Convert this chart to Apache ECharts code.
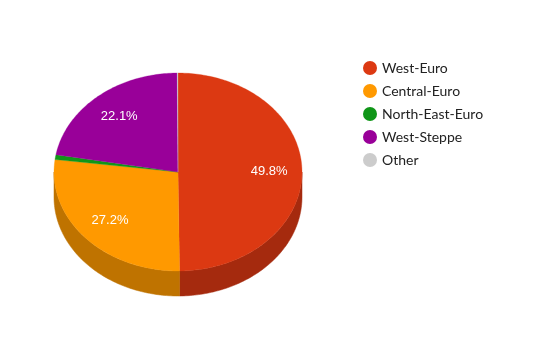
<!DOCTYPE html>
<html>
<head>
<meta charset="utf-8">
<script src="https://cdn.jsdelivr.net/npm/echarts@6/dist/echarts.min.js"></script>
<style>html,body{margin:0;padding:0;background:#fff}#c{width:547px;height:351px}</style>
</head>
<body>
<div id="c"></div>
<script>
var categories = ['West-Euro', 'Central-Euro', 'North-East-Euro', 'West-Steppe', 'Other'];
var values = [49.8, 27.2, 0.8, 22.1, 0.1];
var topColors = ['#dc3912', '#ff9900', '#109618', '#990099', '#cccccc'];
var sideColors = ['#a52a0e', '#bf7300', '#0c7112', '#730073', '#999999'];
var showLabel = [true, true, false, true, false];

var total = values.reduce(function (a, b) { return a + b; }, 0);
var starts = [];
var acc = 0;
for (var i = 0; i < values.length; i++) { starts.push(acc / total); acc += values[i]; }

var CX = 178, CY = 172, RX = 124, RY = 99, DEPTH = 25;

function pt(t, dy) {
  return [CX + RX * Math.sin(t), CY - RY * Math.cos(t) + (dy || 0)];
}
function arc(a, b, dy) {
  var pts = [];
  var n = Math.max(2, Math.ceil((b - a) / (Math.PI / 180)));
  for (var k = 0; k <= n; k++) pts.push(pt(a + (b - a) * k / n, dy));
  return pts;
}

function makeRender(idx) {
  return function (params, api) {
    var v = api.value(0);
    var a = starts[idx] * 2 * Math.PI;
    var b = a + v / total * 2 * Math.PI;
    var children = [];
    var wa = Math.max(a, Math.PI / 2), wb = Math.min(b, 3 * Math.PI / 2);
    if (wb > wa) {
      var topArc = arc(wa, wb, 0);
      var botArc = arc(wa, wb, DEPTH).reverse();
      children.push({
        type: 'polygon', z2: 1,
        shape: { points: topArc.concat(botArc) },
        style: { fill: sideColors[idx], stroke: sideColors[idx], lineWidth: 0.5 }
      });
    }
    children.push({
      type: 'polygon', z2: 10,
      shape: { points: [[CX, CY]].concat(arc(a, b, 0)) },
      style: { fill: topColors[idx], stroke: topColors[idx], lineWidth: 0.3 }
    });
    if (showLabel[idx]) {
      var m = (a + b) / 2;
      var lp = [CX + 0.735 * RX * Math.sin(m), CY - 0.735 * RY * Math.cos(m)];
      children.push({
        type: 'text', z2: 20,
        x: lp[0], y: lp[1],
        style: {
          text: (v / total * 100).toFixed(1) + '%',
          fill: '#ffffff', fontSize: 13,
          fontFamily: 'Liberation Sans, Arial, sans-serif',
          align: 'center', verticalAlign: 'middle'
        }
      });
    }
    return { type: 'group', children: children };
  };
}

var series = categories.map(function (name, i) {
  return {
    type: 'custom', name: name, coordinateSystem: 'none',
    itemStyle: { color: topColors[i] },
    data: [[values[i]]],
    renderItem: makeRender(i),
    animation: false
  };
});

var chart = echarts.init(document.getElementById('c'), null, { renderer: 'canvas' });
chart.setOption({
  backgroundColor: '#ffffff',
  animation: false,
  legend: {
    orient: 'vertical',
    left: 363, top: 61, padding: 0,
    icon: 'circle',
    itemWidth: 14, itemHeight: 14, itemGap: 9,
    textStyle: { fontFamily: 'Lato, sans-serif', fontSize: 14, color: '#222222' },
    data: categories,
    selectedMode: false
  },
  series: series
});
</script>
</body>
</html>
